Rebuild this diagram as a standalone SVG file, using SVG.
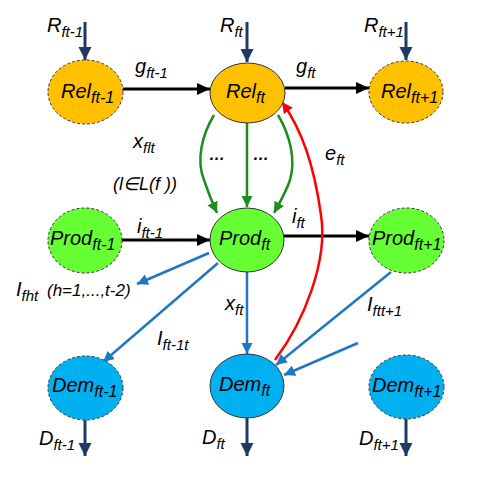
<svg xmlns="http://www.w3.org/2000/svg" width="483" height="482" viewBox="0 0 483 482">
<style>
text{font-family:"Liberation Sans",Arial,sans-serif;font-style:italic;fill:#000}
.nl{font-size:20px}
.el{font-size:20px}
.sub{font-size:15px}
.nsub{font-size:16px}
.sm{font-size:17px}
.rel{fill:#FFC000}
.prod{fill:#66FF33}
.dem{fill:#00B0F0}
.solid{stroke:#333;stroke-width:1}
.dash{stroke:#333;stroke-width:1;stroke-dasharray:3,2}
.k{stroke:#000;stroke-width:3;fill:none}
.nv{stroke:#1F3864;stroke-width:3;fill:none}
.gr{stroke:#1E8C1E;stroke-width:2.5;fill:none}
.bl{stroke:#1F77C4;stroke-width:2.5;fill:none}
.rd{stroke:#FF0000;stroke-width:2.5;fill:none}
</style>
<defs>
<marker id="ak" markerUnits="userSpaceOnUse" markerWidth="14" markerHeight="12" refX="13" refY="6" orient="auto"><path d="M0,0 L13,6 L0,12 z" fill="#000"/></marker>
<marker id="anv" markerUnits="userSpaceOnUse" markerWidth="14" markerHeight="14" refX="13" refY="6.5" orient="auto"><path d="M0,0 L13,6.5 L0,13 z" fill="#1F3864"/></marker>
<marker id="agr" markerUnits="userSpaceOnUse" markerWidth="12" markerHeight="12" refX="11" refY="5.5" orient="auto"><path d="M0,0 L11,5.5 L0,11 z" fill="#1E8C1E"/></marker>
<marker id="abl" markerUnits="userSpaceOnUse" markerWidth="12" markerHeight="12" refX="11" refY="5.5" orient="auto"><path d="M0,0 L11,5.5 L0,11 z" fill="#1F77C4"/></marker>
<marker id="ard" markerUnits="userSpaceOnUse" markerWidth="12" markerHeight="12" refX="11" refY="5.5" orient="auto"><path d="M0,0 L11,5.5 L0,11 z" fill="#FF0000"/></marker>
</defs>

<g id="connectors">
<line class="nv" x1="85" y1="22" x2="85" y2="60" marker-end="url(#anv)"/>
<line class="nv" x1="247" y1="22" x2="247" y2="62" marker-end="url(#anv)"/>
<line class="nv" x1="406" y1="22" x2="406" y2="60" marker-end="url(#anv)"/>
<line class="k" x1="123" y1="89" x2="210" y2="89" marker-end="url(#ak)"/>
<line class="k" x1="285" y1="88" x2="369" y2="88" marker-end="url(#ak)"/>
<line class="k" x1="122" y1="240" x2="210" y2="240" marker-end="url(#ak)"/>
<line class="k" x1="284" y1="236" x2="369" y2="236" marker-end="url(#ak)"/>
<path class="gr" d="M214,115 C202,135 196,160 204,180 C208,192 212,202 217,213" marker-end="url(#agr)"/>
<line class="gr" x1="247" y1="123" x2="247" y2="207" marker-end="url(#agr)"/>
<path class="gr" d="M278,115 C290,135 296,160 290,180 C286,192 280,202 274,213" marker-end="url(#agr)"/>
<path class="rd" d="M275,360 C305,320 328,260 321,215 C314,165 302,130 282,102" marker-end="url(#ard)"/>
<line class="bl" x1="247" y1="272" x2="247" y2="354" marker-end="url(#abl)"/>
<line class="bl" x1="209" y1="253" x2="137" y2="284" marker-end="url(#abl)"/>
<line class="bl" x1="218" y1="263" x2="103" y2="362" marker-end="url(#abl)"/>
<line class="bl" x1="391" y1="272" x2="276" y2="365" marker-end="url(#abl)"/>
<line class="bl" x1="358" y1="343" x2="284" y2="375" marker-end="url(#abl)"/>
<line class="nv" x1="85" y1="420" x2="85" y2="456" marker-end="url(#anv)"/>
<line class="nv" x1="247" y1="418" x2="247" y2="456" marker-end="url(#anv)"/>
<line class="nv" x1="406" y1="419" x2="406" y2="456" marker-end="url(#anv)"/>
</g>

<g id="edge-labels">
<text class="el" x="47" y="32">R<tspan class="sub" dy="5">ft-1</tspan></text>
<text class="el" x="220" y="32">R<tspan class="sub" dy="5">ft</tspan></text>
<text class="el" x="364" y="32">R<tspan class="sub" dy="5">ft+1</tspan></text>
<text class="el" x="135" y="73">g<tspan class="sub" dy="5">ft-1</tspan></text>
<text class="el" x="296" y="73">g<tspan class="sub" dy="5">ft</tspan></text>
<text class="el" x="133" y="148">x<tspan class="sub" dy="5">flt</tspan></text>
<text x="113" y="190" font-size="18">(l∈L(f ))</text>
<text x="209" y="160" font-size="16" font-style="normal" font-weight="bold">…</text>
<text x="253" y="160" font-size="16" font-style="normal" font-weight="bold">…</text>
<text class="el" x="325" y="160">e<tspan class="sub" dy="5">ft</tspan></text>
<text class="el" x="137" y="233">i<tspan class="sub" dy="5">ft-1</tspan></text>
<text class="el" x="292" y="223">i<tspan class="sub" dy="5">ft</tspan></text>
<text class="el" x="16" y="296">I<tspan class="sub" dy="5">fht</tspan><tspan class="sm" dy="-5" x="47">(h=1,...,t-2)</tspan></text>
<text class="el" x="225" y="310">x<tspan class="sub" dy="5">ft</tspan></text>
<text class="el" x="157" y="345">I<tspan class="sub" dy="5">ft-1t</tspan></text>
<text class="el" x="367" y="311">I<tspan class="sub" dy="5">ftt+1</tspan></text>
<text class="el" x="39" y="445">D<tspan class="sub" dy="5">ft-1</tspan></text>
<text class="el" x="202" y="444">D<tspan class="sub" dy="5">ft</tspan></text>
<text class="el" x="359" y="445">D<tspan class="sub" dy="5">ft+1</tspan></text>
</g>

<g id="rel-ft-1"><ellipse class="rel dash" cx="85.5" cy="92" rx="37.5" ry="32"/><text class="nl" x="61" y="98">Rel<tspan class="nsub" dy="5">ft-1</tspan></text></g>
<g id="rel-ft"><ellipse class="rel solid" cx="247.5" cy="93" rx="37.5" ry="30"/><text class="nl" x="226" y="98">Rel<tspan class="nsub" dy="5">ft</tspan></text></g>
<g id="rel-ft+1"><ellipse class="rel dash" cx="406" cy="92" rx="37" ry="31"/><text class="nl" x="381" y="98">Rel<tspan class="nsub" dy="5">ft+1</tspan></text></g>

<g id="prod-ft-1"><ellipse class="prod dash" cx="85" cy="240.5" rx="37" ry="32.5"/><text class="nl" x="50" y="245">Prod<tspan class="nsub" dy="5">ft-1</tspan></text></g>
<g id="prod-ft"><ellipse class="prod solid" cx="247" cy="240" rx="37" ry="32"/><text class="nl" x="219" y="245">Prod<tspan class="nsub" dy="5">ft</tspan></text></g>
<g id="prod-ft+1"><ellipse class="prod dash" cx="406.5" cy="240.5" rx="37.5" ry="32.5"/><text class="nl" x="372" y="245">Prod<tspan class="nsub" dy="5">ft+1</tspan></text></g>

<g id="dem-ft-1"><ellipse class="dem dash" cx="85.5" cy="388" rx="37.5" ry="32"/><text class="nl" x="52" y="392">Dem<tspan class="nsub" dy="5">ft-1</tspan></text></g>
<g id="dem-ft"><ellipse class="dem solid" cx="247" cy="386" rx="37" ry="32"/><text class="nl" x="219" y="391">Dem<tspan class="nsub" dy="5">ft</tspan></text></g>
<g id="dem-ft+1"><ellipse class="dem dash" cx="406.5" cy="387" rx="37.5" ry="32"/><text class="nl" x="372" y="392">Dem<tspan class="nsub" dy="5">ft+1</tspan></text></g>
</svg>
